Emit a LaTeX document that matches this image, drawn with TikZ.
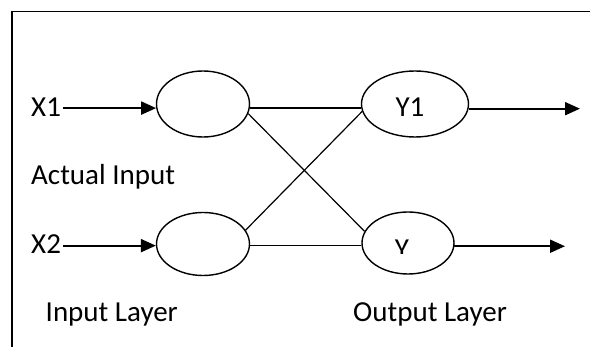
\documentclass[tikz,border=0pt]{standalone}
\usepackage{fontspec}
\setmainfont{Carlito}
\usetikzlibrary{arrows.meta,shapes.geometric}
\begin{document}
\begin{tikzpicture}[x=1pt,y=-1pt,
  neuron/.style={draw,ellipse,line width=1.4pt,inner sep=0pt},
  lbl/.style={inner sep=0pt,anchor=base west,font=\fontsize{29}{34}\selectfont},
  arr/.style={line width=2pt,-{Triangle[length=15pt,width=13pt]}},
  wire/.style={line width=1.2pt}]
\clip (0,0) rectangle (590,347);
\fill[white] (0,0) rectangle (590,347);
\draw[line width=1.6pt] (12,360) -- (12,11.7) -- (600,11.7);
\node[neuron,minimum width=93pt,minimum height=66pt] (a1) at (203,104) {};
\node[neuron,minimum width=93pt,minimum height=63pt] (a2) at (203,244) {};
\node[neuron,minimum width=107pt,minimum height=66pt] (b1) at (415,104) {};
\node[neuron,minimum width=92pt,minimum height=62pt] (b2) at (408,243) {};
\node[lbl] (x1) at (31,117) {X1};
\node[lbl] (x2) at (31,254) {X2};
\node[lbl] (ai) at (31,185) {Actual Input};
\node[lbl] (il) at (45.5,321.7) {Input Layer};
\node[lbl] (ol) at (353,321.7) {Output Layer};
\node[lbl,anchor=base] (y1) at (410,117) {Y1};
\begin{scope}
\clip (380,230) rectangle (430,254);
\node[lbl,anchor=base] (y2) at (402,259) {Y};
\end{scope}
\coordinate (o1) at (580,108);
\coordinate (o2) at (565,246);
\draw[arr] ([xshift=2pt]x1.east |- a1.185) -- (a1.185);
\draw[arr] ([xshift=2pt]x2.east |- a2.182) -- (a2.182);
\draw[wire] (a1.355) -- (a1.355 -| b1.west);
\draw[wire] (a2.358) -- (a2.358 -| b2.west);
\draw[wire] (a1.348) -- (b2.165);
\draw[wire] (a2.18) -- (b1.188);
\draw[arr] (b1.355) -- (b1.355 -| o1);
\draw[arr] (b2.356) -- (b2.356 -| o2);
\end{tikzpicture}
\end{document}
